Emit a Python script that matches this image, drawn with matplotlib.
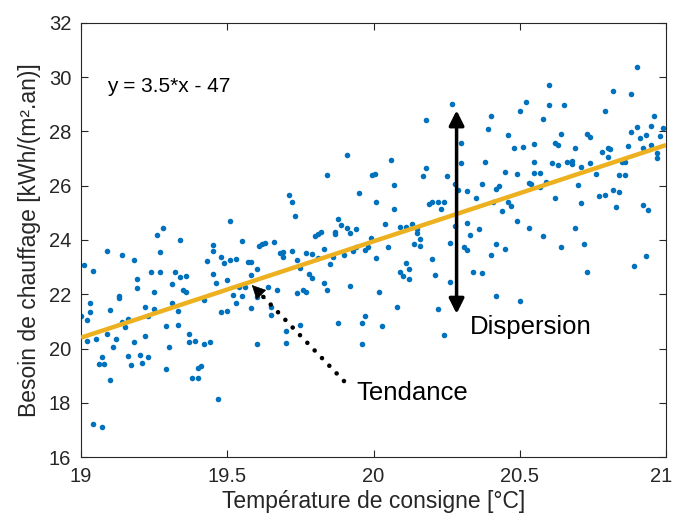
import numpy as np
import matplotlib
matplotlib.use("Agg")
import matplotlib.pyplot as plt
import matplotlib.transforms as mtransforms

# consigne [°C] / besoin de chauffage [kWh/(m².an)]
temp = [
    19.26, 19.28, 19.51,
    19.34, 19.45, 19.55, 19.61, 19.62, 19.63, 19.09, 19.14, 19.18, 19.27, 19.45,
    19.01, 19.04, 19.43, 19.48, 19.49, 19.51, 19.53, 19.57, 19.58, 19.60, 19.58,
    19.24, 19.27, 19.32, 19.34, 19.36, 19.45, 19.19, 19.19, 19.25, 19.31, 19.35,
    19.36, 19.46, 19.50, 19.52, 19.53, 19.54, 19.55, 19.56, 19.60, 19.58, 19.64,
    19.65, 19.65, 19.13, 19.13, 19.03, 19.03, 19.02, 19.00, 19.10, 19.14, 19.15,
    19.16, 19.22, 19.25, 19.23, 19.31, 19.33, 19.29, 19.33, 19.42, 19.48, 19.50,
    19.02, 19.05, 19.09, 19.12, 19.11, 19.18, 19.22, 19.30, 19.37, 19.37, 19.39,
    19.42, 19.44, 19.60, 19.07, 19.06, 19.08, 19.16, 19.17, 19.20, 19.21, 19.23,
    19.10, 19.29, 19.40, 19.41, 19.38, 19.40, 19.47, 19.04, 19.07,
    20.27, 20.18, 20.30, 19.91, 20.06, 20.18, 20.30, 19.84, 19.996, 20.004,
    20.17, 20.25, 20.07, 20.28, 20.29, 20.32, 19.71, 19.72, 19.73, 19.95, 20.01,
    20.19, 20.20, 20.22, 20.24, 20.23, 20.07, 19.88, 19.89, 19.91, 19.92, 19.94,
    19.80, 19.81, 19.82, 19.87, 19.87, 19.99, 20.04, 20.09, 20.11, 20.13, 20.15,
    20.15, 20.28, 20.32, 20.16,
    19.66, 19.68, 19.69, 19.69, 19.72, 19.74, 19.75, 19.77, 19.79, 19.78, 19.79,
    19.81, 19.83, 19.85, 19.86, 19.90, 19.93, 19.94, 19.97, 19.98, 20.01, 20.05,
    19.83, 19.84, 19.67, 19.74, 19.76, 19.77, 19.92, 20.02, 20.11, 20.09, 20.10,
    20.12, 20.12, 20.14, 20.16, 20.20, 20.21, 20.26, 20.26, 20.31, 20.32, 20.08,
    20.22, 19.88, 19.96, 19.97, 20.03, 19.75, 19.70, 19.70, 19.96, 20.24,
    20.90, 20.60, 20.82, 20.88, 20.52, 20.60, 20.65, 20.50, 20.79, 20.40, 20.58,
    20.96, 20.39, 20.90, 20.95, 20.99, 20.88, 20.46, 20.64, 20.73, 20.74, 20.91,
    20.93, 20.98, 20.62, 20.55, 20.63, 20.48, 20.51, 20.69, 20.87, 20.92, 20.95,
    20.78, 20.80, 20.80, 20.81, 20.97, 20.97, 20.38, 20.55, 20.61, 20.63, 20.66,
    20.68, 20.68, 20.74, 20.85, 20.86, 20.71, 20.45, 20.49, 20.55, 20.57, 20.76,
    20.84, 20.86, 20.37, 20.53, 20.54, 20.57, 20.59, 20.70, 20.42, 20.43, 20.35,
    20.62, 20.82, 20.84, 20.77, 20.79, 20.41, 20.46, 20.47, 20.71, 20.83, 20.92,
    20.94, 20.44, 20.49, 20.53, 20.69, 20.58, 20.33, 20.36,
    20.42, 20.45, 20.40, 20.34, 20.37, 20.42, 20.50, 20.64, 20.72, 20.73, 20.89,
    20.93,
]
besoin = [
    24.17, 24.44, 24.71,
    24.00, 23.83, 23.95, 23.78, 23.85, 23.90, 23.60, 23.44, 23.26, 23.57, 23.60,
    23.06, 22.87, 23.21, 23.39, 23.17, 23.25, 23.30, 23.20, 23.18, 22.93, 22.72,
    22.81, 22.81, 22.81, 22.65, 22.67, 22.75, 22.55, 22.22, 22.07, 22.36, 22.16,
    22.10, 22.40, 22.52, 21.96, 21.68, 22.28, 21.94, 22.28, 21.89, 21.51, 22.27,
    21.52, 21.25, 21.93, 21.88, 21.67, 21.35, 21.04, 21.18, 21.41, 20.96, 20.80,
    21.08, 21.53, 21.46, 21.19, 21.67, 21.39, 20.82, 20.88, 21.77, 21.36, 21.37,
    20.29, 20.36, 20.53, 20.34, 20.04, 20.23, 20.45, 20.07, 20.53, 20.23, 20.28,
    20.16, 20.23, 20.16, 19.67, 19.44, 19.44, 19.73, 19.39, 19.77, 19.45, 19.67,
    18.85, 19.23, 19.29, 19.37, 18.93, 18.93, 18.13, 17.20, 17.09,
    29.01, 28.41, 27.56, 27.12, 26.95, 26.64, 26.85, 26.40, 26.41, 26.43,
    26.37, 26.35, 26.04, 26.06, 25.84, 25.81, 25.67, 25.40, 24.87, 25.75, 25.40,
    25.34, 25.39, 25.40, 25.39, 25.14, 25.13, 24.76, 24.57, 24.44, 24.27, 24.42,
    24.13, 24.22, 24.31, 24.22, 24.29, 24.09, 24.60, 24.49, 24.49, 24.59, 24.41,
    24.25, 24.51, 24.63, 24.05,
    23.93, 23.51, 23.39, 23.55, 23.61, 23.26, 22.96, 23.51, 23.48, 22.75, 22.61,
    23.33, 23.68, 23.13, 23.39, 23.44, 23.60, 23.73, 23.63, 23.73, 23.34, 23.74,
    22.43, 22.15, 22.17, 22.05, 22.17, 22.09, 22.32, 22.09, 23.15, 22.81, 22.67,
    22.92, 22.56, 23.84, 23.79, 23.29, 22.70, 22.47, 23.90, 23.73, 23.63, 21.52,
    21.45, 20.94, 20.93, 21.19, 20.82, 20.88, 20.63, 20.21, 20.16, 20.48,
    30.36, 29.73, 29.49, 29.38, 29.07, 28.99, 28.99, 28.76, 28.74, 28.57, 28.46,
    28.57, 28.11, 28.15, 28.19, 28.14, 27.98, 27.88, 27.89, 27.92, 27.81, 27.76,
    27.88, 27.84, 27.59, 27.55, 27.51, 27.40, 27.41, 27.39, 27.48, 27.39, 27.49,
    27.23, 27.07, 27.38, 27.34, 27.19, 27.02, 26.86, 26.87, 26.84, 26.76, 26.87,
    26.93, 26.80, 26.82, 26.86, 26.86, 26.68, 26.52, 26.45, 26.47, 26.47, 26.45,
    26.40, 26.38, 26.05, 26.10, 26.05, 25.95, 26.14, 26.04, 25.87, 25.99, 25.56,
    25.55, 25.84, 25.77, 25.62, 25.65, 25.39, 25.41, 25.24, 25.38, 25.22, 25.29,
    25.12, 25.06, 24.70, 24.44, 24.46, 24.15, 24.17, 24.42,
    23.84, 23.68, 23.46, 22.82, 22.79, 21.93, 21.75, 23.75, 23.84, 22.81, 23.03,
    23.42,
]

# linear trend as drawn (label rounds it to 3.5*x - 47)
slope, intercept = 3.55, -47.05
eq_label = "y = 3.5*x - 47"

x_lim = [19, 21]
y_lim = [16, 32]
x_ticks = [19, 19.5, 20, 20.5, 21]
x_ticklabels = ["19", "19.5", "20", "20.5", "21"]
y_ticks = [16, 18, 20, 22, 24, 26, 28, 30, 32]

plt.rcParams["font.family"] = ["Liberation Sans", "DejaVu Sans"]
dark = "#262626"

fig = plt.figure(figsize=(6.73, 5.21), dpi=100)
ax = fig.add_axes([0.1204, 0.1228, 0.8692, 0.8331])

ax.scatter(temp, besoin, s=16, color="#0072BD", linewidths=0, zorder=2)
xl = np.array(x_lim)
ax.plot(xl, slope * xl + intercept, color="#EDB120", lw=3.2, zorder=3,
        solid_capstyle="butt")

ax.set_xlim(x_lim)
ax.set_ylim(y_lim)
ax.set_xticks(x_ticks)
ax.set_xticklabels(x_ticklabels)
ax.set_yticks(y_ticks)
ax.tick_params(direction="in", top=True, right=True, length=5, width=0.8,
               labelsize=14.5, colors=dark, pad=7)
for s in ax.spines.values():
    s.set_color(dark)
    s.set_linewidth(0.8)

# last x label sits on the figure edge: nudge it left a few pixels
last = ax.get_xticklabels()[-1]
last.set_transform(last.get_transform() +
                   mtransforms.ScaledTranslation(-5 / 100, 0, fig.dpi_scale_trans))

ax.set_xlabel("Température de consigne [°C]", fontsize=16.5, color=dark,
              labelpad=3)
ax.set_ylabel("Besoin de chauffage [kWh/(m².an)]", fontsize=16.5, color=dark,
              labelpad=6)

ax.text(19.09, 29.64, eq_label, fontsize=15, va="center", ha="left", color="k")

# dispersion arrow
ax.annotate("", xy=(20.284, 28.78), xytext=(20.284, 21.28),
            arrowprops=dict(arrowstyle="<|-|>,head_length=0.9,head_width=0.45",
                            lw=2.5, color="k", shrinkA=0, shrinkB=0), zorder=4)
ax.text(20.33, 20.54, "Dispersion", fontsize=18.5, va="baseline", ha="left")

# trend arrow (dotted)
tail = (19.899, 18.8)
tip = (19.584, 22.34)
ax.plot([tail[0], 19.62], [tail[1], 21.94], ls=(0, (0.01, 2.3)), lw=3.3,
        color="k", dash_capstyle="round", zorder=4)
ax.annotate("", xy=tip, xytext=(19.63, 21.83),
            arrowprops=dict(arrowstyle="-|>,head_length=0.9,head_width=0.45",
                            lw=0.5, color="k", shrinkA=0, shrinkB=0), zorder=4)
ax.text(19.94, 18.1, "Tendance", fontsize=18.5, va="baseline", ha="left")

fig.savefig("out.png", dpi=100, facecolor="white")
